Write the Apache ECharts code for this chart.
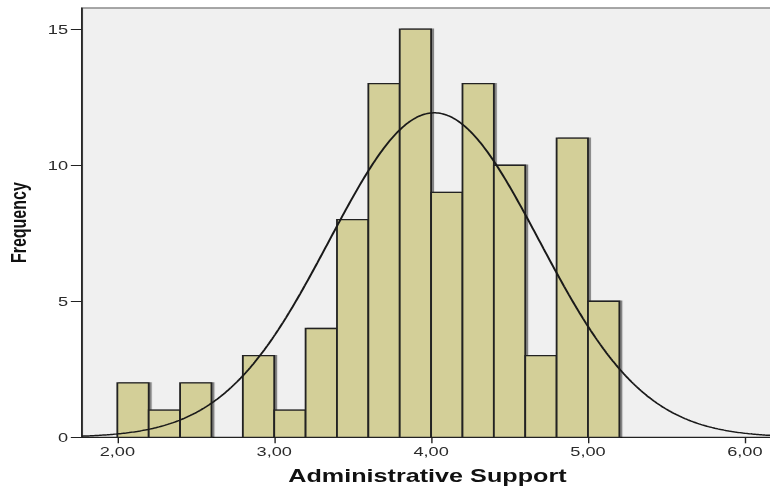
<!DOCTYPE html>
<html>
<head>
<meta charset="utf-8">
<title>Administrative Support – Histogram</title>
<script src="https://cdn.jsdelivr.net/npm/echarts@6/dist/echarts.min.js"></script>
<style>
  html, body { margin: 0; padding: 0; background: #ffffff; overflow: hidden; }
  /* The chart is laid out on a narrower canvas and widened horizontally */
  #chart { width: 550px; height: 486px; transform: scaleX(1.4); transform-origin: 0 0; overflow: hidden; }
</style>
</head>
<body>
<div id="chart"></div>
<script>
// Histogram bins (lower edge) and their frequencies
const binStart = [2.0, 2.2, 2.4, 2.6, 2.8, 3.0, 3.2, 3.4, 3.6, 3.8, 4.0, 4.2, 4.4, 4.6, 4.8, 5.0];
const counts   = [2,   1,   2,   0,   3,   1,   4,   8,   13,  15,  9,   13,  10,  3,   11,  5];
const binWidth = 0.2;

// Fitted normal curve parameters
const curveMean = 4.02;
const curveSD = 0.669;
const curveN = 100;

// Axis ticks
const xTickValues = [2, 3, 4, 5, 6];
const xTickLabels = ['2,00', '3,00', '4,00', '5,00', '6,00'];
const yTickValues = [0, 5, 10, 15];

const xMin = 1.775, xMax = 6.178;
const yMin = 0, yMax = 15.78;

const font = '"Liberation Sans", Arial, sans-serif';

// Normal density scaled to the histogram's counts
const curveData = [];
for (let i = 0; i <= 440; i++) {
  const x = xMin + (xMax - xMin) * i / 440;
  const z = (x - curveMean) / curveSD;
  const y = curveN * binWidth / (curveSD * Math.sqrt(2 * Math.PI)) * Math.exp(-0.5 * z * z);
  curveData.push([x, y]);
}

const barData = binStart.map((s, i) => [s, counts[i], s + binWidth]);

const chart = echarts.init(document.getElementById('chart'), null, { renderer: 'svg' });

chart.setOption({
  animation: false,
  backgroundColor: '#ffffff',
  grid: {
    left: 58.6, top: 8, right: -2, bottom: 48.7,
    outerBoundsMode: 'none',
    containLabel: false,
    show: true,
    backgroundColor: '#f0f0f0',
    borderColor: '#8a8a8a',
    borderWidth: 1.5
  },
  xAxis: {
    type: 'value',
    min: xMin, max: xMax,
    name: 'Administrative Support',
    nameLocation: 'middle',
    nameGap: 39,
    nameTextStyle: { fontFamily: font, fontSize: 18, fontWeight: 'bold', color: '#111', verticalAlign: 'middle' },
    axisLine: { show: true, onZero: false, lineStyle: { color: '#222', width: 1.2 } },
    axisTick: { show: true, length: 6, customValues: xTickValues, lineStyle: { color: '#222', width: 1 } },
    axisLabel: {
      customValues: xTickValues,
      margin: 8,
      fontFamily: font, fontSize: 13, color: '#2a2a2a',
      formatter: v => xTickLabels[xTickValues.indexOf(v)] || ''
    },
    splitLine: { show: false }
  },
  yAxis: {
    type: 'value',
    min: yMin, max: yMax,
    name: 'Frequency',
    nameLocation: 'middle',
    nameGap: 46,
    nameTextStyle: { fontFamily: font, fontSize: 16, fontWeight: 'bold', color: '#111', verticalAlign: 'middle' },
    axisLine: { show: true, lineStyle: { color: '#222', width: 1.2 } },
    axisTick: { show: true, length: 8, customValues: yTickValues, lineStyle: { color: '#222', width: 1 } },
    axisLabel: {
      customValues: yTickValues,
      margin: 10,
      fontFamily: font, fontSize: 13, color: '#2a2a2a'
    },
    splitLine: { show: false }
  },
  series: [
    {
      type: 'custom',
      data: barData,
      encode: { x: [0, 2], y: 1 },
      z: 2,
      renderItem: function (params, api) {
        const start = api.value(0);
        const h = api.value(1);
        if (!h) return null;
        const p0 = api.coord([start, 0]);
        const p1 = api.coord([start + binWidth, h]);
        return {
          type: 'rect',
          shape: { x: p0[0], y: p1[1], width: p1[0] - p0[0], height: p0[1] - p1[1] },
          style: {
            fill: '#d3cf98',
            stroke: '#222222',
            lineWidth: 1.3,
            shadowColor: 'rgba(0,0,0,0.45)',
            shadowBlur: 0,
            shadowOffsetX: 1.5,
            shadowOffsetY: 0
          }
        };
      }
    },
    {
      type: 'line',
      data: curveData,
      showSymbol: false,
      symbol: 'none',
      smooth: false,
      z: 3,
      lineStyle: { color: '#1a1a1a', width: 1.5 }
    }
  ]
});
</script>
</body>
</html>
